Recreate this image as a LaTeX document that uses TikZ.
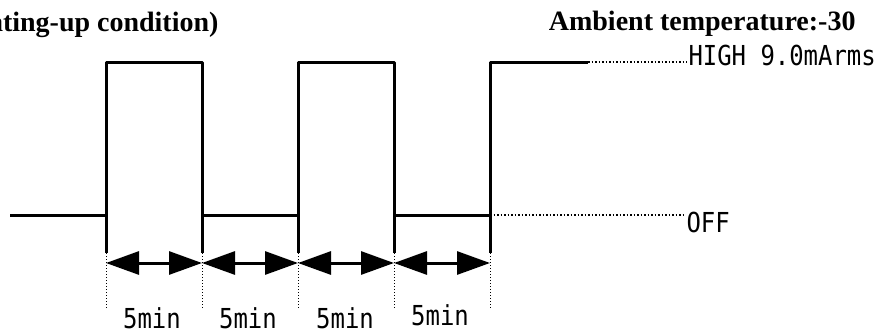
\documentclass[tikz,border=0pt]{standalone}
\usepackage{fontspec}
\setmainfont{Liberation Serif}
\newfontfamily\gfont[FakeStretch=0.87]{DejaVu Sans Mono}
\usetikzlibrary{arrows.meta,positioning}

\begin{document}
\begin{tikzpicture}[x=1pt,y=-1pt,line width=3pt,line join=round,
  dim/.style={{Triangle[length=33pt,width=23pt]}-{Triangle[length=33pt,width=23pt]},line width=3pt},
  guide/.style={line width=1pt,dash pattern=on 1pt off 2pt},
  level/.style={line width=1.5pt,dash pattern=on 1.5pt off 2pt},
  lbl/.style={font=\gfont\fontsize{27.5}{27.5}\selectfont,inner sep=0pt},
  head/.style={font=\bfseries\fontsize{28}{28}\selectfont,inner sep=0pt}]

\useasboundingbox (0,0) rectangle (879,333);

% edges of the pulses
\foreach \n/\x in {1/106,2/202,3/298,4/394,5/490}{
  \coordinate (E\n) at (\x,253);
  \coordinate (A\n) at (\x,263);
  \coordinate (G\n) at (\x,308);
}
\coordinate (S) at (10,215);
\coordinate (H) at (588,62);

% signal
\draw (S) -- (106,215) -- (106,62) -- (202,62) -- (202,215) -- (298,215)
  -- (298,62) -- (394,62) -- (394,215) -- (490,215) -- (490,62) -- (H);
\foreach \n/\x in {1/106,2/202,3/298,4/394,5/490}
  \draw (\x,215) -- (E\n);

% levels
\node[lbl,anchor=base west] (high) at (687,65) {HIGH 9.0mArms};
\node[lbl,anchor=base west] (off) at (685,232) {OFF};
\draw[level] (H) -- (high.west |- H);
\draw[level] (490,215) -- (off.west |- 490,215);

% time spans
\foreach \n in {1,...,5}
  \draw[guide] (E\n) -- (G\n);
\draw[dim] (A1) -- (A2);
\draw[dim] (A2) -- (A3);
\draw[dim] (A3) -- (A4);
\draw[dim] (A4) -- (A5);

\node[lbl,anchor=base] (t1) at (152,328) {5min};
\node[lbl,anchor=base] (t2) at (248,328) {5min};
\node[lbl,anchor=base] (t3) at (345,328) {5min};
\node[lbl,anchor=base] (t4) at (440,325) {5min};

% headings
\node[head,anchor=base east] (cond) at (220,31) {ating-up condition)};
\node[head,anchor=base east] (amb) at (857,30) {Ambient temperature:-30};

\end{tikzpicture}
\end{document}
